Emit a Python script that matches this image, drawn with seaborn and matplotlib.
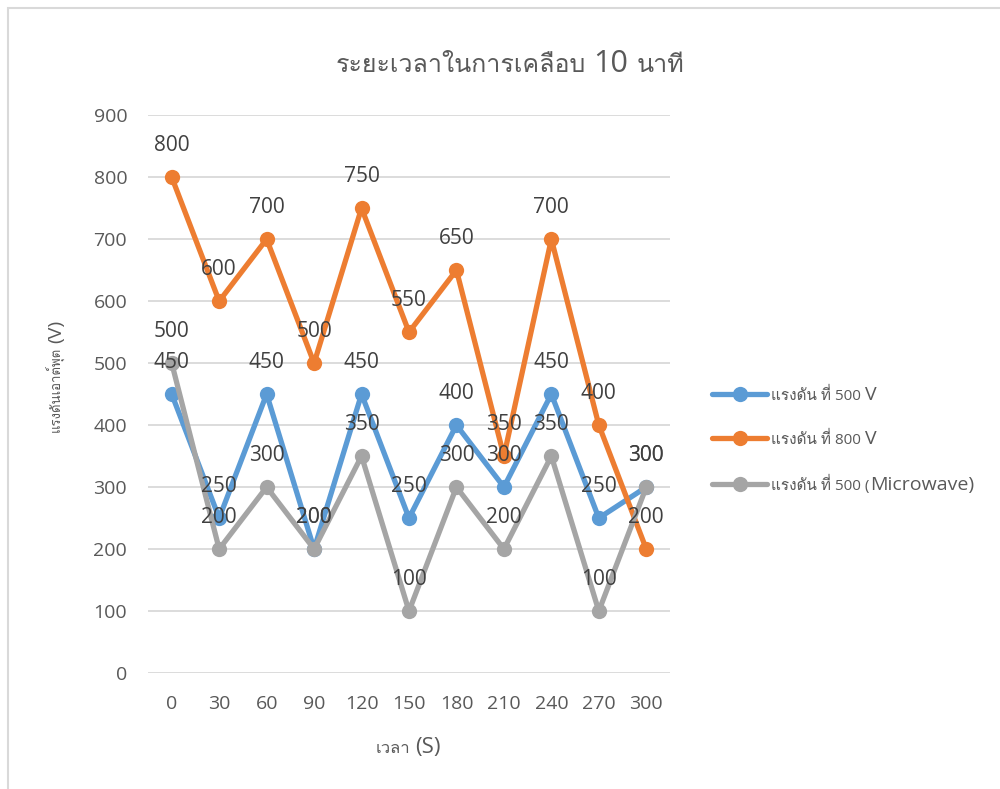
import matplotlib
matplotlib.use("Agg")
import matplotlib.pyplot as plt
from matplotlib import font_manager
from matplotlib.ft2font import FT2Font
from matplotlib.patches import Rectangle
from matplotlib.transforms import IdentityTransform
import seaborn as sns
import pandas as pd

# ---- data -------------------------------------------------------------
times = ["0", "30", "60", "90", "120", "150", "180", "210", "240", "270", "300"]
v500 = [450, 250, 450, 200, 450, 250, 400, 300, 450, 250, 300]
v800 = [800, 600, 700, 500, 750, 550, 650, 350, 700, 400, 200]
v500_mw = [500, 200, 300, 200, 350, 100, 300, 200, 350, 100, 300]
series_names = ["แรงดัน ที่ 500 V", "แรงดัน ที่ 800 V", "แรงดัน ที่ 500 (Microwave)"]
# same legend labels split into (text, font size, space after) runs
legend_runs = [
    [("แรงดัน ที่ 500", 11, True), ("V", 14, False)],
    [("แรงดัน ที่ 800", 11, True), ("V", 14, False)],
    [("แรงดัน ที่ 500 (", 11, False), ("Microwave)", 14, False)],
]
colors = ["#5B9BD5", "#ED7D31", "#A5A5A5"]
title_runs = [("ระยะเวลาในการเคลือบ", 18, True), ("10", 22, True), ("นาที", 18, False)]
xlabel_runs = [("เวลา", 12, True), ("(S)", 16, False)]
ylabel_runs = [("แรงดันเอาต์พุต", 9.5, True), ("(V)", 14, False)]
yticks = [0, 100, 200, 300, 400, 500, 600, 700, 800, 900]

TEXT_GREY = "#595959"
LABEL_DARK = "#404040"


def find_thai_family():
    seen = set()
    for f in font_manager.fontManager.ttflist:
        if f.fname in seen:
            continue
        seen.add(f.fname)
        try:
            cmap = FT2Font(f.fname).get_charmap()
        except Exception:
            continue
        if 0x0E23 in cmap and 0x0E35 in cmap and 0x0E40 in cmap:
            return f.name
    return None


sns.set_theme(style="white")
thai = find_thai_family()
families = ["Open Sans"] + ([thai] if thai else []) + ["DejaVu Sans"]
plt.rcParams["font.family"] = families


def run_text(fig, renderer, x, y, runs, rotation=0, align="center", color=TEXT_GREY):
    """Draw text made of runs with different sizes on one baseline (pixel coords)."""
    texts, lengths, gaps = [], [], []
    for s, size, space in runs:
        t = fig.text(0, 0, s, fontsize=size, color=color,
                     transform=IdentityTransform(), ha="left", va="baseline",
                     rotation=rotation, rotation_mode="anchor")
        bb = t.get_window_extent(renderer)
        texts.append(t)
        lengths.append(bb.height if rotation == 90 else bb.width)
        gaps.append(0.27 * size * fig.dpi / 72 if space else 0.5)
    total = sum(lengths) + sum(gaps[:-1])
    pos = -total / 2 if align == "center" else 0.0
    for t, L, g in zip(texts, lengths, gaps):
        if rotation == 90:
            t.set_position((x, y + pos))
        else:
            t.set_position((x + pos, y))
        pos += L + g
    return texts


rows = []
for name, vals in zip(series_names, [v500, v800, v500_mw]):
    for i, v in enumerate(vals):
        rows.append({"idx": i, "value": v, "series": name})
df = pd.DataFrame(rows)

W, H = 1000, 789
fig = plt.figure(figsize=(W / 100, H / 100), dpi=100)
ax = fig.add_axes([0.148, 0.147, 0.522, 0.707])

# light chart-area frame
fig.patches.append(Rectangle((0.008, -0.1), 1.2, 1.0895, transform=fig.transFigure,
                             fill=False, edgecolor="#D9D9D9", linewidth=1.5))

sns.lineplot(data=df, x="idx", y="value", hue="series", hue_order=series_names,
             palette=colors, marker="o", markersize=11, markeredgewidth=0,
             linewidth=3.8, ax=ax, legend=True, clip_on=False)

# value labels above each point
for name, vals in zip(series_names, [v500, v800, v500_mw]):
    for i, v in enumerate(vals):
        ax.annotate(str(v), (i, v), xytext=(0, 22.5), textcoords="offset points",
                    ha="center", va="center", fontsize=15, color=LABEL_DARK,
                    annotation_clip=False)

ax.set_xlim(-0.5, len(times) - 0.5)
ax.set_ylim(0, 900)
ax.set_yticks(yticks)
ax.set_xticks(range(len(times)))
ax.set_xticklabels(times)
ax.tick_params(axis="both", length=0, labelsize=14, labelcolor=TEXT_GREY)
ax.tick_params(axis="y", pad=15)
ax.tick_params(axis="x", pad=16)
ax.yaxis.grid(True, color="#D9D9D9", linewidth=1.3)
ax.set_axisbelow(True)
for s in ax.spines.values():
    s.set_visible(False)
ax.set_xlabel("")
ax.set_ylabel("")

leg = ax.legend(loc="center left", bbox_to_anchor=(0.697, 0.441),
                bbox_transform=fig.transFigure, frameon=False, fontsize=12,
                labelspacing=1.65, handlelength=3.3, handletextpad=0.25)
for t in leg.get_texts():
    t.set_alpha(0.0)

fig.canvas.draw()
renderer = fig.canvas.get_renderer()

# legend labels with mixed run sizes, placed where the legend put its text
for t, runs in zip(leg.get_texts(), legend_runs):
    bx, by = t.get_transform().transform(t.get_position())
    bb = t.get_window_extent(renderer)
    run_text(fig, renderer, bb.x0, by, runs, align="left")

run_text(fig, renderer, 510, H - 72, title_runs)
run_text(fig, renderer, 408, H - 753, xlabel_runs)
run_text(fig, renderer, 61, H - 376, ylabel_runs, rotation=90)

fig.savefig("out.png", dpi=100)
